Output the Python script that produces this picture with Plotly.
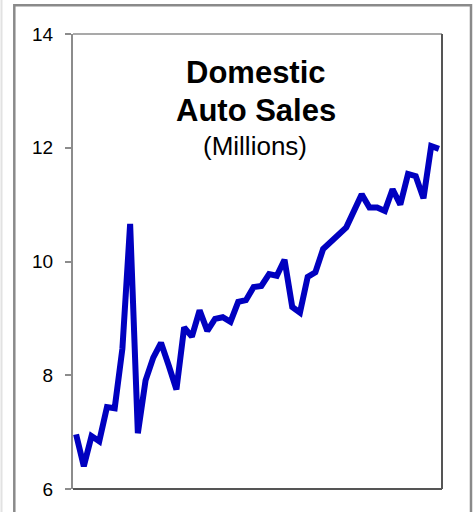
import plotly.graph_objects as go

# ---- data ----
months = [f"{m} {y}" for y in (2009, 2010, 2011, 2012)
          for m in ("Jan", "Feb", "Mar", "Apr", "May", "Jun",
                    "Jul", "Aug", "Sep", "Oct", "Nov", "Dec")]
sales = [6.96, 6.40, 6.93, 6.84, 7.44, 7.42, 8.47, 10.66, 6.98, 7.91,
         8.31, 8.57, 8.17, 7.75, 8.84, 8.68, 9.14, 8.78, 8.99, 9.02,
         8.94, 9.29, 9.32, 9.55, 9.57, 9.78, 9.75, 10.03, 9.20, 9.10,
         9.73, 9.81, 10.22, 10.34, 10.46, 10.60, 10.89, 11.18, 10.95, 10.95,
         10.89, 11.27, 11.00, 11.54, 11.50, 11.11, 12.03, 11.98]
y_ticks = [6, 8, 10, 12, 14]
title_lines = ["Domestic", "Auto Sales", "(Millions)"]

# ---- layout geometry (pixels) ----
W, H = 475, 512
L, R, T, B = 73, 442, 34, 491
PW, PH = R - L, B - T


def px(x):
    return (x - L) / PW


def py(y):
    return (B - y) / PH


fig = go.Figure()
fig.add_trace(go.Scatter(
    x=months, y=sales, mode="lines",
    line=dict(color="#0000C0", width=6),
    hoverinfo="x+y", showlegend=False,
))

shapes = [
    # outer chart frame
    dict(type="rect", xref="paper", yref="paper",
         x0=px(14.3), x1=px(471), y0=py(540), y1=py(5),
         line=dict(color="#8a8a8a", width=2.5), fillcolor="rgba(0,0,0,0)", layer="below"),
    # faint line at far left
    dict(type="line", xref="paper", yref="paper",
         x0=px(1.5), x1=px(1.5), y0=py(540), y1=py(-5),
         line=dict(color="#e2e2e2", width=2)),
    # plot frame: top (light grey), right and bottom (dark grey)
    dict(type="line", xref="paper", yref="paper", x0=0, x1=1, y0=1, y1=1,
         line=dict(color="#8c8c8c", width=1.5)),
    dict(type="line", xref="paper", yref="paper", x0=1, x1=1, y0=0, y1=1,
         line=dict(color="#555555", width=2)),
    dict(type="line", xref="paper", yref="paper", x0=0, x1=1, y0=0, y1=0,
         line=dict(color="#555555", width=2)),
]

annotations = [
    dict(text=f"<b>{title_lines[0]}</b>", x=px(256), y=py(73), xref="paper", yref="paper",
         showarrow=False, xanchor="center", yanchor="middle",
         font=dict(family="Liberation Sans, Arial", size=31, color="black")),
    dict(text=f"<b>{title_lines[1]}</b>", x=px(256), y=py(111), xref="paper", yref="paper",
         showarrow=False, xanchor="center", yanchor="middle",
         font=dict(family="Liberation Sans, Arial", size=31, color="black")),
    dict(text=title_lines[2], x=px(255), y=py(146), xref="paper", yref="paper",
         showarrow=False, xanchor="center", yanchor="middle",
         font=dict(family="Liberation Sans, Arial", size=26, color="black")),
]

fig.update_layout(
    width=W, height=H,
    margin=dict(l=L, r=W - R, t=T, b=H - B, pad=0),
    paper_bgcolor="white", plot_bgcolor="white",
    shapes=shapes, annotations=annotations,
    font=dict(family="Liberation Sans, Arial", color="black"),
    xaxis=dict(range=[-0.4, len(months) - 0.6], showticklabels=False, ticks="",
               showgrid=False, zeroline=False, showline=False, fixedrange=True),
    yaxis=dict(range=[6, 14], tickvals=y_ticks, ticktext=[str(v) for v in y_ticks],
               ticks="outside", ticklen=6, tickwidth=2, tickcolor="#8c8c8c",
               showline=True, linecolor="#8c8c8c", linewidth=2,
               showgrid=False, zeroline=False, ticklabelstandoff=8,
               tickfont=dict(size=19, color="black", family="Liberation Sans, Arial"),
               fixedrange=True),
)

fig.write_html("out.html", config={"displayModeBar": False},
               post_script="document.body.style.margin='0';")
